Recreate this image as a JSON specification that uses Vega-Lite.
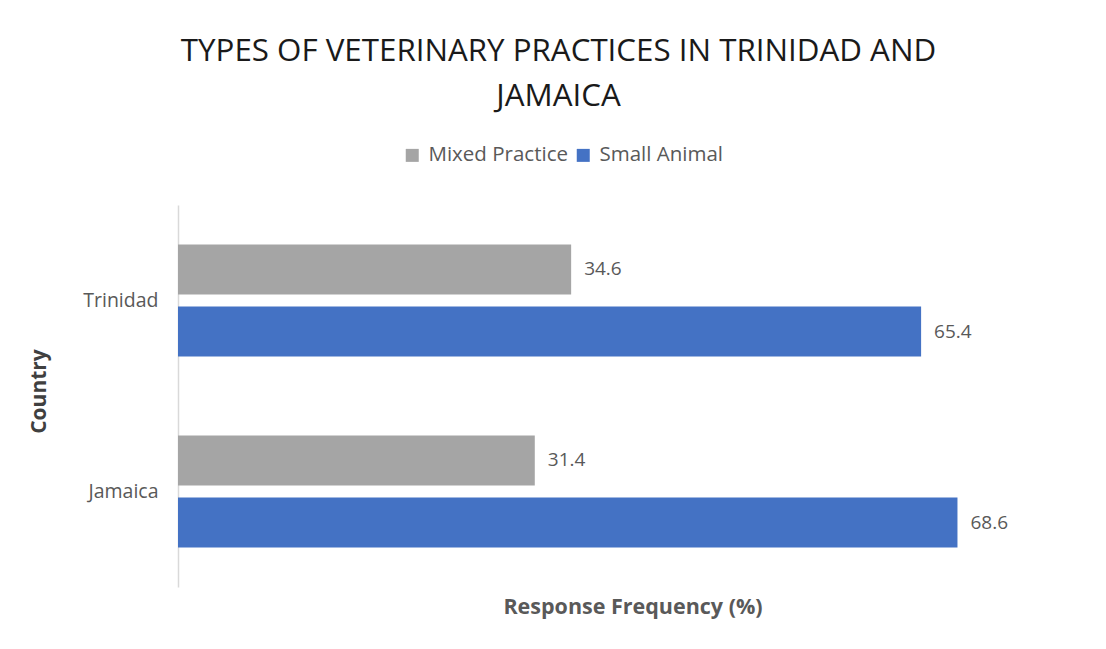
{
  "$schema": "https://vega.github.io/schema/vega-lite/v6.json",
  "width": 909,
  "height": 382,
  "autosize": {"type": "none"},
  "padding": {"left": 178, "top": 205, "right": 19, "bottom": 62},
  "background": "white",
  "config": {"view": {"stroke": null}, "font": "Open Sans"},
  "title": {
    "text": ["TYPES OF VETERINARY PRACTICES IN TRINIDAD AND", "JAMAICA"],
    "fontSize": 31.3,
    "font": "Open Sans",
    "fontWeight": "normal",
    "color": "#1a1a1a",
    "anchor": "middle",
    "frame": "group",
    "dx": -74,
    "offset": 33,
    "lineHeight": 45
  },
  "data": {
    "values": [
      {"Country": "Trinidad", "Type": "Mixed Practice", "Value": 34.6},
      {"Country": "Trinidad", "Type": "Small Animal", "Value": 65.4},
      {"Country": "Jamaica", "Type": "Mixed Practice", "Value": 31.4},
      {"Country": "Jamaica", "Type": "Small Animal", "Value": 68.6}
    ]
  },
  "encoding": {
    "y": {
      "field": "Country",
      "type": "nominal",
      "sort": ["Trinidad", "Jamaica"],
      "scale": {"paddingInner": 0, "paddingOuter": 0},
      "axis": {
        "title": "Country",
        "titleFontSize": 21,
        "titleFontWeight": "bold",
        "titleColor": "#404040",
        "titleX": -129,
        "titleY": 186,
        "titleAngle": -90,
        "titleAlign": "center",
        "titleBaseline": "bottom",
        "labelFontSize": 19.5,
        "labelColor": "#595959",
        "labelPadding": 20,
        "ticks": false,
        "domainColor": "#d9d9d9",
        "domainWidth": 1.5,
        "grid": false
      }
    },
    "yOffset": {
      "field": "Type",
      "type": "nominal",
      "sort": ["Mixed Practice", "Small Animal"],
      "scale": {"paddingInner": 0.1935, "paddingOuter": 0.637}
    },
    "x": {
      "field": "Value",
      "type": "quantitative",
      "scale": {"domain": [0, 80], "nice": false},
      "axis": {
        "title": "Response Frequency (%)",
        "titleFontSize": 21.5,
        "titleFontWeight": "bold",
        "titleColor": "#595959",
        "titlePadding": 9,
        "labels": false,
        "ticks": false,
        "domain": false,
        "grid": false
      }
    }
  },
  "layer": [
    {
      "mark": {"type": "bar"},
      "encoding": {
        "color": {
          "field": "Type",
          "type": "nominal",
          "sort": ["Mixed Practice", "Small Animal"],
          "scale": {"domain": ["Mixed Practice", "Small Animal"], "range": ["#a5a5a5", "#4472c4"]},
          "legend": {
            "title": null,
            "orient": "none",
            "legendX": 224,
            "legendY": -60,
            "direction": "horizontal",
            "symbolType": "square",
            "symbolSize": 169,
            "symbolStrokeWidth": 0,
            "labelFontSize": 20.5,
            "labelColor": "#595959",
            "labelOffset": 6,
            "columnPadding": 5
          }
        }
      }
    },
    {
      "mark": {"type": "text", "align": "left", "baseline": "middle", "dx": 13, "fontSize": 19, "color": "#595959"},
      "encoding": {
        "text": {"field": "Value", "type": "quantitative", "format": ".1f"}
      }
    }
  ]
}
